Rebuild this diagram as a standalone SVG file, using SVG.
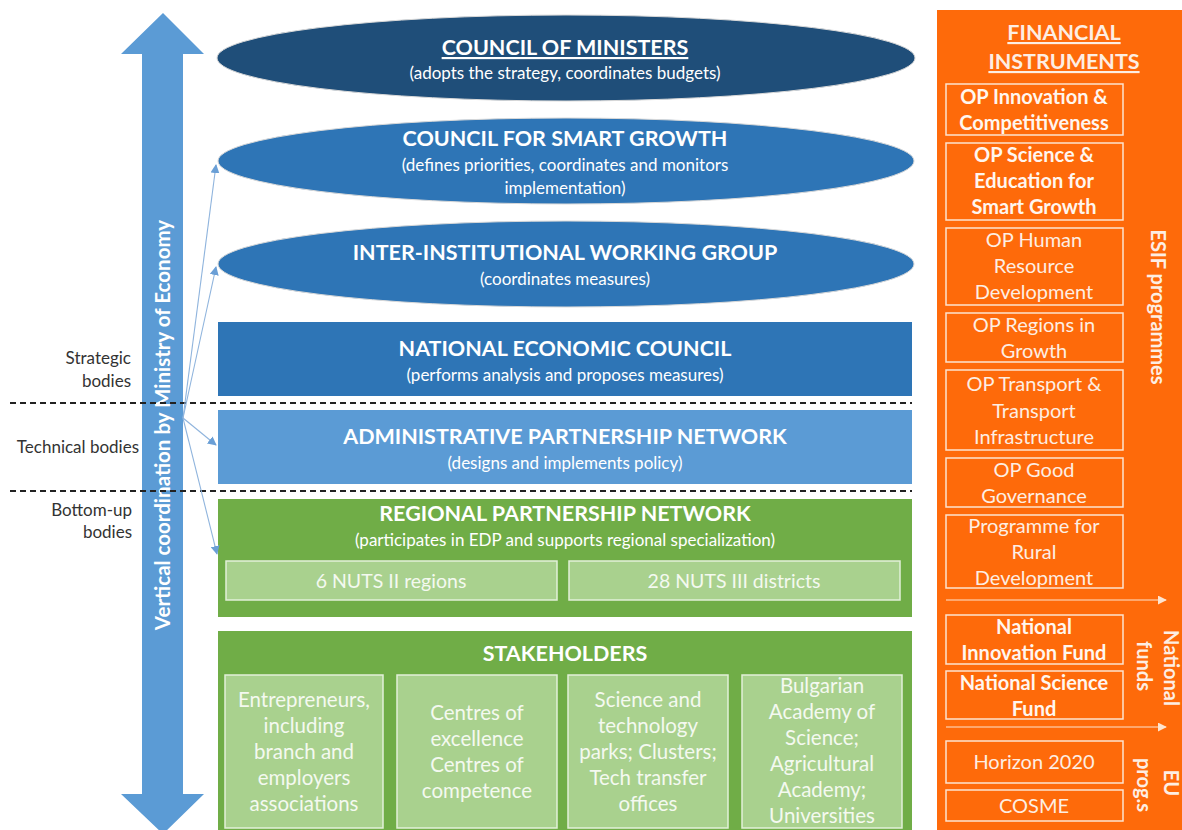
<svg xmlns="http://www.w3.org/2000/svg" width="1182" height="830" viewBox="0 0 1182 830">
<defs>
<style>
text{font-family:Lato,"Open Sans","Noto Sans",sans-serif;text-anchor:middle}
.t{font-weight:bold;font-size:21.5px;fill:#ffffff}
.s{font-size:17px;fill:#ffffff}
.lbl{font-size:17px;fill:#333333;text-anchor:end}
.inner{fill:#a9d18e;stroke:#e2f0d9;stroke-width:1.5}
.it{font-size:20.5px;fill:#f4f9f0}
.it2{font-size:19.5px;fill:#f4f9f0}
.ob{fill:none;stroke:#fde4d0;stroke-width:1.5}
.ot{font-size:20px;fill:#fdeee3}
.obt{font-size:20px;font-weight:bold;fill:#fff6ef}
.vt{font-weight:bold;font-size:20px;fill:#fdeee3}
.dash{stroke:#222;stroke-width:1.8;stroke-dasharray:6 4}
.conn{stroke:#8fb4dd;stroke-width:1.1;fill:none;marker-end:url(#ah)}
.ol{stroke:#fde4d0;stroke-width:1;marker-end:url(#wh)}
</style>
<marker id="ah" viewBox="0 0 10 10" refX="9" refY="5" markerWidth="9" markerHeight="9" orient="auto" markerUnits="userSpaceOnUse"><path d="M0,0 L10,5 L0,10 z" fill="#6a9fd6"/></marker>
<marker id="wh" viewBox="0 0 10 10" refX="9" refY="5" markerWidth="9" markerHeight="9" orient="auto" markerUnits="userSpaceOnUse"><path d="M0,0 L10,5 L0,10 z" fill="#fde4d0"/></marker>
</defs>
<rect width="1182" height="830" fill="#ffffff"/>

<g id="vertical-arrow">
<polygon points="163,13 204,54 183,54 183,794 204,794 163,834 121,794 142,794 142,54 121,54" fill="#5b9bd5"/>
<text transform="translate(170,425) rotate(-90)" style="font-weight:bold;font-size:20.5px;fill:#ffffff">Vertical coordination by Ministry of Economy</text>
</g>

<g id="level-labels">
<text class="lbl" x="131" y="364">Strategic</text>
<text class="lbl" x="131" y="387">bodies</text>
<text class="lbl" x="139" y="453">Technical bodies</text>
<text class="lbl" x="132" y="516">Bottom-up</text>
<text class="lbl" x="132" y="538">bodies</text>
<line class="dash" x1="10" y1="403" x2="912" y2="403"/>
<line class="dash" x1="10" y1="491" x2="912" y2="491"/>
</g>

<g id="council-of-ministers">
<ellipse cx="566" cy="58" rx="349" ry="43" fill="#1f4e79" stroke="#d9d9d9" stroke-width="1"/>
<text class="t" x="565" y="55" text-decoration="underline">COUNCIL OF MINISTERS</text>
<text class="s" x="565" y="79">(adopts the strategy, coordinates budgets)</text>
</g>

<g id="council-smart-growth">
<ellipse cx="566" cy="161" rx="348" ry="43" fill="#2e75b6" stroke="#d9d9d9" stroke-width="1"/>
<text class="t" x="565" y="146">COUNCIL FOR SMART GROWTH</text>
<text class="s" x="565" y="171">(defines priorities, coordinates and monitors</text>
<text class="s" x="565" y="194">implementation)</text>
</g>

<g id="inter-institutional">
<ellipse cx="566" cy="264" rx="348" ry="43" fill="#2e75b6" stroke="#d9d9d9" stroke-width="1"/>
<text class="t" x="565" y="260">INTER-INSTITUTIONAL WORKING GROUP</text>
<text class="s" x="565" y="285">(coordinates measures)</text>
</g>

<g id="national-economic-council">
<rect x="218" y="322" width="694" height="74" fill="#2e75b6"/>
<text class="t" x="565" y="356">NATIONAL ECONOMIC COUNCIL</text>
<text class="s" x="565" y="381">(performs analysis and proposes measures)</text>
</g>

<g id="administrative-network">
<rect x="218" y="410" width="694" height="74" fill="#5b9bd5"/>
<text class="t" x="565" y="444">ADMINISTRATIVE PARTNERSHIP NETWORK</text>
<text class="s" x="565" y="469">(designs and implements policy)</text>
</g>

<g id="regional-network">
<rect x="218" y="499" width="694" height="118" fill="#70ad47"/>
<text class="t" x="565" y="521">REGIONAL PARTNERSHIP NETWORK</text>
<text class="s" x="565" y="546">(participates in EDP and supports regional specialization)</text>
<rect class="inner" x="226" y="561" width="331" height="39"/>
<text class="it2" x="391" y="588">6 NUTS II regions</text>
<rect class="inner" x="569" y="561" width="331" height="39"/>
<text class="it2" x="734" y="588">28 NUTS III districts</text>
</g>

<g id="stakeholders">
<rect x="218" y="631" width="694" height="205" fill="#70ad47"/>
<text class="t" x="565" y="661">STAKEHOLDERS</text>
<rect class="inner" x="225" y="675" width="158" height="153"/>
<text class="it" x="304" y="707">Entrepreneurs,</text>
<text class="it" x="304" y="733">including</text>
<text class="it" x="304" y="759">branch and</text>
<text class="it" x="304" y="785">employers</text>
<text class="it" x="304" y="811">associations</text>
<rect class="inner" x="397" y="675" width="160" height="153"/>
<text class="it" x="477" y="720">Centres of</text>
<text class="it" x="477" y="746">excellence</text>
<text class="it" x="477" y="772">Centres of</text>
<text class="it" x="477" y="798">competence</text>
<rect class="inner" x="568" y="675" width="160" height="153"/>
<text class="it" x="648" y="707">Science and</text>
<text class="it" x="648" y="733">technology</text>
<text class="it" x="648" y="759">parks; Clusters;</text>
<text class="it" x="648" y="785">Tech transfer</text>
<text class="it" x="648" y="811">offices</text>
<rect class="inner" x="742" y="675" width="160" height="153"/>
<text class="it" x="822" y="693">Bulgarian</text>
<text class="it" x="822" y="719">Academy of</text>
<text class="it" x="822" y="745">Science;</text>
<text class="it" x="822" y="771">Agricultural</text>
<text class="it" x="822" y="797">Academy;</text>
<text class="it" x="822" y="823">Universities</text>
</g>

<g id="financial-instruments">
<rect x="937" y="10" width="245" height="822" fill="#fe6a0a"/>
<text x="1064" y="40" style="font-weight:bold;font-size:21.5px;fill:#fdeee3" text-decoration="underline">FINANCIAL</text>
<text x="1064" y="69" style="font-weight:bold;font-size:21.5px;fill:#fdeee3" text-decoration="underline">INSTRUMENTS</text>
<rect class="ob" x="946" y="84" width="177" height="51"/>
<text class="obt" x="1034" y="104">OP Innovation &amp;</text>
<text class="obt" x="1034" y="130">Competitiveness</text>
<rect class="ob" x="946" y="143" width="177" height="77"/>
<text class="obt" x="1034" y="162">OP Science &amp;</text>
<text class="obt" x="1034" y="188">Education for</text>
<text class="obt" x="1034" y="214">Smart Growth</text>
<rect class="ob" x="946" y="228" width="177" height="77"/>
<text class="ot" x="1034" y="247">OP Human</text>
<text class="ot" x="1034" y="273">Resource</text>
<text class="ot" x="1034" y="299">Development</text>
<rect class="ob" x="946" y="313" width="177" height="49"/>
<text class="ot" x="1034" y="332">OP Regions in</text>
<text class="ot" x="1034" y="358">Growth</text>
<rect class="ob" x="946" y="370" width="177" height="80"/>
<text class="ot" x="1034" y="391">OP Transport &amp;</text>
<text class="ot" x="1034" y="418">Transport</text>
<text class="ot" x="1034" y="444">Infrastructure</text>
<rect class="ob" x="946" y="458" width="177" height="49"/>
<text class="ot" x="1034" y="477">OP Good</text>
<text class="ot" x="1034" y="503">Governance</text>
<rect class="ob" x="946" y="515" width="177" height="73"/>
<text class="ot" x="1034" y="533">Programme for</text>
<text class="ot" x="1034" y="559">Rural</text>
<text class="ot" x="1034" y="585">Development</text>
<line class="ol" x1="946" y1="600" x2="1166" y2="600"/>
<rect class="ob" x="946" y="615" width="177" height="49"/>
<text class="obt" x="1034" y="634">National</text>
<text class="obt" x="1034" y="660">Innovation Fund</text>
<rect class="ob" x="946" y="671" width="177" height="48"/>
<text class="obt" x="1034" y="690">National Science</text>
<text class="obt" x="1034" y="716">Fund</text>
<line class="ol" x1="946" y1="727" x2="1166" y2="727"/>
<rect class="ob" x="946" y="741" width="177" height="42"/>
<text class="ot" x="1034" y="769">Horizon 2020</text>
<rect class="ob" x="946" y="790" width="177" height="31"/>
<text class="ot" x="1034" y="813">COSME</text>
<text class="vt" transform="translate(1151,307) rotate(90)">ESIF programmes</text>
<text class="vt" transform="translate(1164,668) rotate(90)">National</text>
<text class="vt" transform="translate(1137,666) rotate(90)">funds</text>
<text class="vt" transform="translate(1164,783) rotate(90)">EU</text>
<text class="vt" transform="translate(1137,785) rotate(90)">prog.s</text>
</g>

<g id="connectors">
<line class="conn" x1="183" y1="418" x2="216" y2="165"/>
<line class="conn" x1="183" y1="418" x2="216" y2="267"/>
<line class="conn" x1="183" y1="418" x2="216" y2="445"/>
<line class="conn" x1="183" y1="418" x2="217" y2="554"/>
</g>
</svg>
